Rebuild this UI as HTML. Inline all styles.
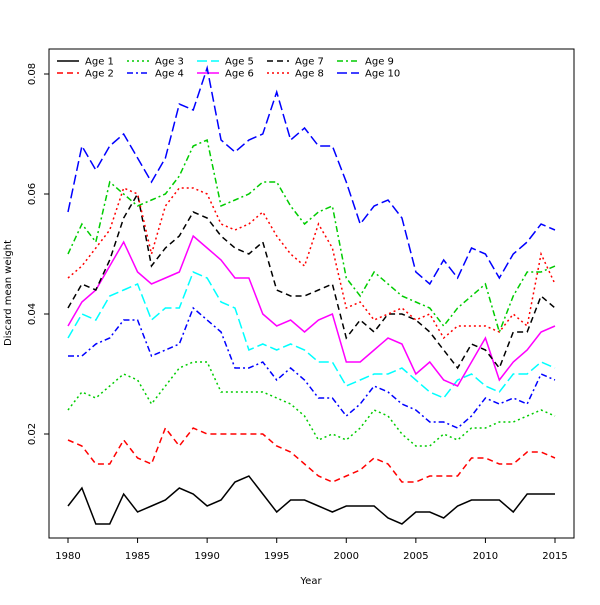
<!DOCTYPE html><html><head><style>body{margin:0;background:#fff}svg{font-family:"DejaVu Sans","Liberation Sans",sans-serif}</style></head><body>
<svg id="s" width="600" height="600" xmlns="http://www.w3.org/2000/svg" font-size="10"></svg>
<script>
const D=[
["#000","",1.5,[.008,.011,.005,.005,.010,.007,.008,.009,.011,.010,.008,.009,.012,.013,.010,.007,.009,.009,.008,.007,.008,.008,.008,.006,.005,.007,.007,.006,.008,.009,.009,.009,.007,.010,.010,.010]],
["#f00","6,4",1.5,[.019,.018,.015,.015,.019,.016,.015,.021,.018,.021,.020,.020,.020,.020,.020,.018,.017,.015,.013,.012,.013,.014,.016,.015,.012,.012,.013,.013,.013,.016,.016,.015,.015,.017,.017,.016]],
["#0c0","2,3",1.5,[.024,.027,.026,.028,.030,.029,.025,.028,.031,.032,.032,.027,.027,.027,.027,.026,.025,.023,.019,.020,.019,.021,.024,.023,.020,.018,.018,.020,.019,.021,.021,.022,.022,.023,.024,.023]],
["#00f","6,3,2,3",1.5,[.033,.033,.035,.036,.039,.039,.033,.034,.035,.041,.039,.037,.031,.031,.032,.029,.031,.029,.026,.026,.023,.025,.028,.027,.025,.024,.022,.022,.021,.023,.026,.025,.026,.025,.030,.029]],
["#0ff","10,4",1.5,[.036,.040,.039,.043,.044,.045,.039,.041,.041,.047,.046,.042,.041,.034,.035,.034,.035,.034,.032,.032,.028,.029,.030,.030,.031,.029,.027,.026,.029,.030,.028,.027,.030,.030,.032,.031]],
["#f0f","",1.5,[.038,.042,.044,.048,.052,.047,.045,.046,.047,.053,.051,.049,.046,.046,.040,.038,.039,.037,.039,.040,.032,.032,.034,.036,.035,.030,.032,.029,.028,.032,.036,.029,.032,.034,.037,.038]],
["#000","6,4",1.5,[.041,.045,.044,.049,.056,.060,.048,.051,.053,.057,.056,.053,.051,.050,.052,.044,.043,.043,.044,.045,.036,.039,.037,.040,.040,.039,.037,.034,.031,.035,.034,.031,.037,.037,.043,.041]],
["#f00","2,3",1.5,[.046,.048,.051,.054,.061,.060,.050,.058,.061,.061,.060,.055,.054,.055,.057,.053,.050,.048,.055,.051,.041,.042,.039,.040,.041,.039,.040,.036,.038,.038,.038,.037,.040,.038,.050,.045]],
["#0c0","6,3,2,3",1.5,[.050,.055,.052,.062,.060,.058,.059,.060,.063,.068,.069,.058,.059,.060,.062,.062,.058,.055,.057,.058,.046,.043,.047,.045,.043,.042,.041,.038,.041,.043,.045,.037,.043,.047,.047,.048]],
["#00f","10,4",1.5,[.057,.068,.064,.068,.070,.066,.062,.066,.075,.074,.081,.069,.067,.069,.070,.077,.069,.071,.068,.068,.062,.055,.058,.059,.056,.047,.045,.049,.046,.051,.050,.046,.050,.052,.055,.054]]];
const X=i=>68+i*13.914,Y=v=>434-(v-.02)*6000;
let h='<rect x="49" y="49" width="525" height="489" fill="none" stroke="#000"/>';
for(let y=1980;y<=2015;y+=5){let x=X(y-1980);h+=`<line x1="${x}" y1="538" x2="${x}" y2="543" stroke="#000"/><text x="${x}" y="559" text-anchor="middle">${y}</text>`}
for(let v of [.02,.04,.06,.08]){let y=Y(v);h+=`<line x1="44" y1="${y}" x2="49" y2="${y}" stroke="#000"/><text transform="translate(35,${y}) rotate(-90)" text-anchor="middle">${v.toFixed(2)}</text>`}
h+='<text x="311" y="584" text-anchor="middle">Year</text><text transform="translate(11,293) rotate(-90)" text-anchor="middle">Discard mean weight</text>';
D.forEach((d,k)=>{h+=`<polyline fill="none" stroke="${d[0]}" stroke-width="${d[2]}" stroke-dasharray="${d[1]}" points="${d[3].map((v,i)=>X(i)+','+Y(v)).join(' ')}"/>`;
let c=Math.floor(k/2),r=k%2,lx=57+c*70,ly=61+r*12;
h+=`<line x1="${lx}" y1="${ly}" x2="${lx+22}" y2="${ly}" stroke="${d[0]}" stroke-width="1.5" stroke-dasharray="${d[1]}"/><text x="${lx+28}" y="${ly+3.5}">Age ${k+1}</text>`});
document.getElementById('s').innerHTML=h;
</script></body></html>
